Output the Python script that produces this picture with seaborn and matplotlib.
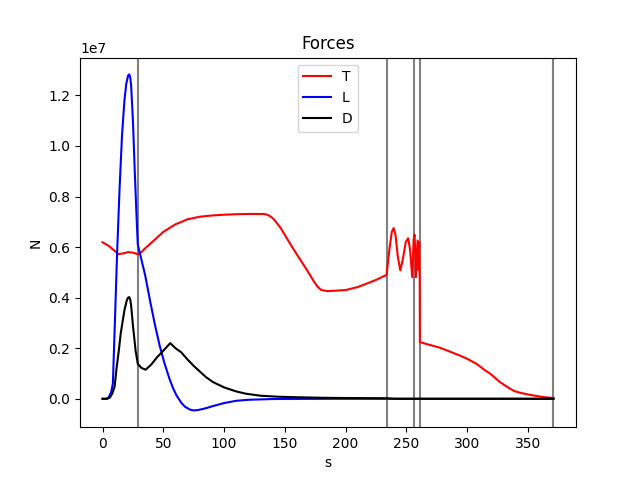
import matplotlib
matplotlib.use("Agg")
import matplotlib.pyplot as plt
import seaborn as sns
import numpy as np
import pandas as pd

# ---- data (values in units of 1e6 N) ----
T_s = [0, 5, 10, 13, 17, 21, 25, 29, 32, 35, 42, 50, 60, 70, 80, 90, 100, 110, 120,
       128, 132, 135, 138, 141, 146, 150, 155, 160, 165, 170, 174, 177, 180, 185,
       190, 200, 210, 217, 225,
       233.7, 236, 238, 239.5, 241, 243, 245, 247, 249.5, 251.5, 253, 254.8,
       256, 256.7, 257.3, 257.8, 259.2, 260.0, 260.6, 261.0, 261.1, 270, 277.6,
       285, 294, 300, 307.8, 314, 319, 327, 332, 335.3, 339, 343.5, 350, 357, 364, 371]
T_v = [6.19, 6.05, 5.85, 5.72, 5.75, 5.8, 5.78, 5.72, 5.8, 5.95, 6.25, 6.6, 6.9, 7.1,
       7.2, 7.25, 7.28, 7.3, 7.31,
       7.31, 7.31, 7.29, 7.22, 7.1, 6.79, 6.48, 6.08, 5.7, 5.33, 4.95, 4.63, 4.43,
       4.3, 4.26, 4.27, 4.3, 4.42, 4.55, 4.7,
       4.9, 5.9, 6.6, 6.75, 6.5, 5.6, 5.08, 5.5, 6.2, 6.35, 5.9, 4.81,
       6.3, 6.49, 5.8, 4.81, 6.26, 5.1, 6.2, 4.5, 2.24, 2.12, 2.02,
       1.88, 1.71, 1.58, 1.38, 1.15, 0.99, 0.66, 0.5, 0.4, 0.3, 0.24, 0.17, 0.11, 0.06, 0.03]

L_s = [0, 3, 5, 7, 8.5, 10, 12, 14, 16, 18, 19.5, 21, 22, 22.8, 23.5, 25, 26.5,
       28, 29, 32, 35, 39, 43, 47, 51, 55, 58, 61, 65, 68, 72, 75, 78, 82, 86,
       90, 100, 110, 120, 140, 160, 200, 233.7, 260, 300, 371]
L_v = [0.0, 0.0, 0.05, 0.25, 0.6, 2.8, 5.8, 8.3, 10.4, 11.8, 12.45, 12.78, 12.83,
       12.7, 12.4, 11.0, 9.0, 7.2, 6.1, 5.5, 4.9, 3.9, 2.95, 2.1, 1.4, 0.8, 0.42,
       0.12, -0.17, -0.32, -0.43, -0.46, -0.45, -0.41, -0.36,
       -0.3, -0.17, -0.08, -0.04, -0.01, -0.005, 0.0, 0.0, 0.0, 0.0, 0.0]

D_s = [0, 4, 6, 8, 10, 11.5, 13.4, 15, 18, 20, 21, 22, 22.8, 23.5, 25, 27.2, 29,
       32, 35.5, 40, 45, 50, 55.7, 60, 64.7, 70, 75, 80, 85, 90.9, 100, 110, 118,
       130, 145, 160, 180, 200, 233.7, 240, 260, 300, 371]
D_v = [0.0, 0.0, 0.05, 0.2, 0.5, 1.2, 1.91, 2.6, 3.5, 3.9, 4.0, 4.02, 3.92, 3.7,
       2.9, 1.9, 1.38, 1.22, 1.15, 1.35, 1.65, 1.9, 2.2, 2.0, 1.84, 1.55, 1.3,
       1.08, 0.86, 0.66, 0.45, 0.29, 0.2, 0.12, 0.08, 0.06, 0.04, 0.03, 0.02,
       0.0, 0.0, 0.0, 0.0]

phase_s = [28.8, 233.7, 255.9, 260.8, 370.4]

scale = 1e6

fig, ax = plt.subplots(figsize=(6.4, 4.8), dpi=100)

for xv in phase_s:
    ax.axvline(xv, color="gray")

for s, v, c, lab in [(T_s, T_v, "red", "T"), (L_s, L_v, "blue", "L"),
                     (D_s, D_v, "black", "D")]:
    df = pd.DataFrame({"s": s, "N": np.array(v) * scale})
    sns.lineplot(data=df, x="s", y="N", color=c, label=lab, ax=ax,
                 sort=False, estimator=None, linewidth=1.5)

ax.set_title("Forces")
ax.set_xlabel("s")
ax.set_ylabel("N")
ax.legend(loc="upper center")

fig.savefig("out.png", dpi=100)
